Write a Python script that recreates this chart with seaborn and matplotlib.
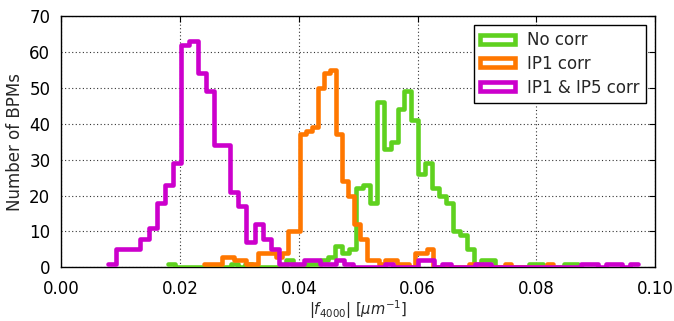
import numpy as np
import pandas as pd
import matplotlib
matplotlib.use("Agg")
import matplotlib.pyplot as plt
from matplotlib.patches import Patch
import seaborn as sns

# Series names and colours
labels = ["No corr", "IP1 corr", "IP1 & IP5 corr"]
colors = ["#5fd11f", "#ff7700", "#cc00cc"]

# Binning of each data set: first bin edge and bin width in um^-1
no_corr_start, no_corr_width = 0.018008, 0.0011701
ip1_start, ip1_width = 0.024051, 0.0010127
ip15_start, ip15_width = 0.007789, 0.0013755

# Number of BPMs per bin
no_corr_counts = [1, 0, 0, 0, 0, 0, 0, 0, 0, 1, 0, 1, 0, 0, 0, 0, 0, 2, 0, 0,
                  1, 1, 2, 3, 6, 4, 5, 22, 23, 18, 46, 33, 35, 44, 49, 41, 26,
                  29, 22, 20, 18, 10, 9, 5, 1, 2, 2, 0, 0, 0, 0, 0, 1, 1, 0, 0,
                  0, 1, 1]
ip1_counts = [1, 1, 1, 3, 3, 2, 2, 1, 1, 4, 4, 4, 3, 4, 10, 10,
              37, 38, 39, 50, 54, 55, 37, 24, 20, 12, 8, 2, 2, 1, 2, 2, 1, 1,
              0, 4, 4, 5, 0, 0, 0, 0, 0, 0, 1, 0, 0, 0, 0, 0, 1, 0, 0, 0, 0,
              0, 0, 1]
ip15_counts = [1, 5, 5, 5, 8, 11, 18, 23, 29, 62, 63, 54, 49, 34, 34, 21, 17,
               7, 12, 8, 5, 1, 1, 1, 2, 2, 1, 1, 2, 1, 0, 0, 0, 0, 1, 0, 0, 0,
               2, 2, 0, 1, 0, 0, 0, 1, 1, 0, 0, 0, 0, 0, 0, 0, 0, 0, 0, 0, 1,
               1, 0, 1, 1, 0, 1]

x_ticks = [0.00, 0.02, 0.04, 0.06, 0.08, 0.10]
y_ticks = [0, 10, 20, 30, 40, 50, 60, 70]

sns.set_style("white")
plt.rcParams["font.family"] = ["DejaVu Sans"]
plt.rcParams["font.size"] = 12
plt.rcParams["mathtext.fontset"] = "dejavusans"

fig = plt.figure(figsize=(6.74, 3.21), dpi=100)
ax = fig.add_axes([0.0912, 0.1673, 0.9718 - 0.0912, 0.950 - 0.1673])

series = [
    (no_corr_start, no_corr_width, no_corr_counts),
    (ip1_start, ip1_width, ip1_counts),
    (ip15_start, ip15_width, ip15_counts),
]
for (start, width, counts), color in zip(series, colors):
    counts = np.asarray(counts, dtype=float)
    edges = start + width * np.arange(len(counts) + 1)
    frame = pd.DataFrame({"f4000": 0.5 * (edges[:-1] + edges[1:]),
                          "bpms": counts})
    sns.histplot(data=frame, x="f4000", weights="bpms", bins=edges.tolist(),
                 element="step", fill=False, color=color, linewidth=3.3,
                 ax=ax, zorder=3)

ax.set_xlim(0.0, 0.10)
ax.set_ylim(0, 70)
ax.set_xticks(x_ticks)
ax.set_yticks(y_ticks)
ax.set_xticklabels([f"{t:.2f}" for t in x_ticks])
ax.set_yticklabels([str(t) for t in y_ticks])
ax.tick_params(direction="in", length=4, width=0.8, top=True, right=True,
               labelsize=12, colors="black")
ax.tick_params(axis="x", pad=9.5)
ax.tick_params(axis="y", pad=8)
ax.grid(True, linestyle=(0, (1, 2.2)), linewidth=0.8, color="#333333")
ax.set_axisbelow(True)
for spine in ax.spines.values():
    spine.set_color("black")
    spine.set_linewidth(1.0)

ax.set_xlabel(r"$|f_{4000}|$ [$\mu m^{-1}$]", fontsize=10.5, labelpad=0)
ax.set_ylabel("Number of BPMs", fontsize=12, labelpad=4)

handles = [Patch(facecolor="white", edgecolor=c, linewidth=3.3, label=l)
           for c, l in zip(colors, labels)]
leg = ax.legend(handles=handles, loc="upper right", fontsize=12,
                frameon=True, fancybox=False, framealpha=1,
                edgecolor="black", borderpad=0.35, labelspacing=0.35,
                handlelength=2.1, handleheight=0.45, handletextpad=0.75,
                borderaxespad=0.55)
leg.get_frame().set_linewidth(1.0)
leg.set_zorder(5)

fig.savefig("out.png", dpi=100)
